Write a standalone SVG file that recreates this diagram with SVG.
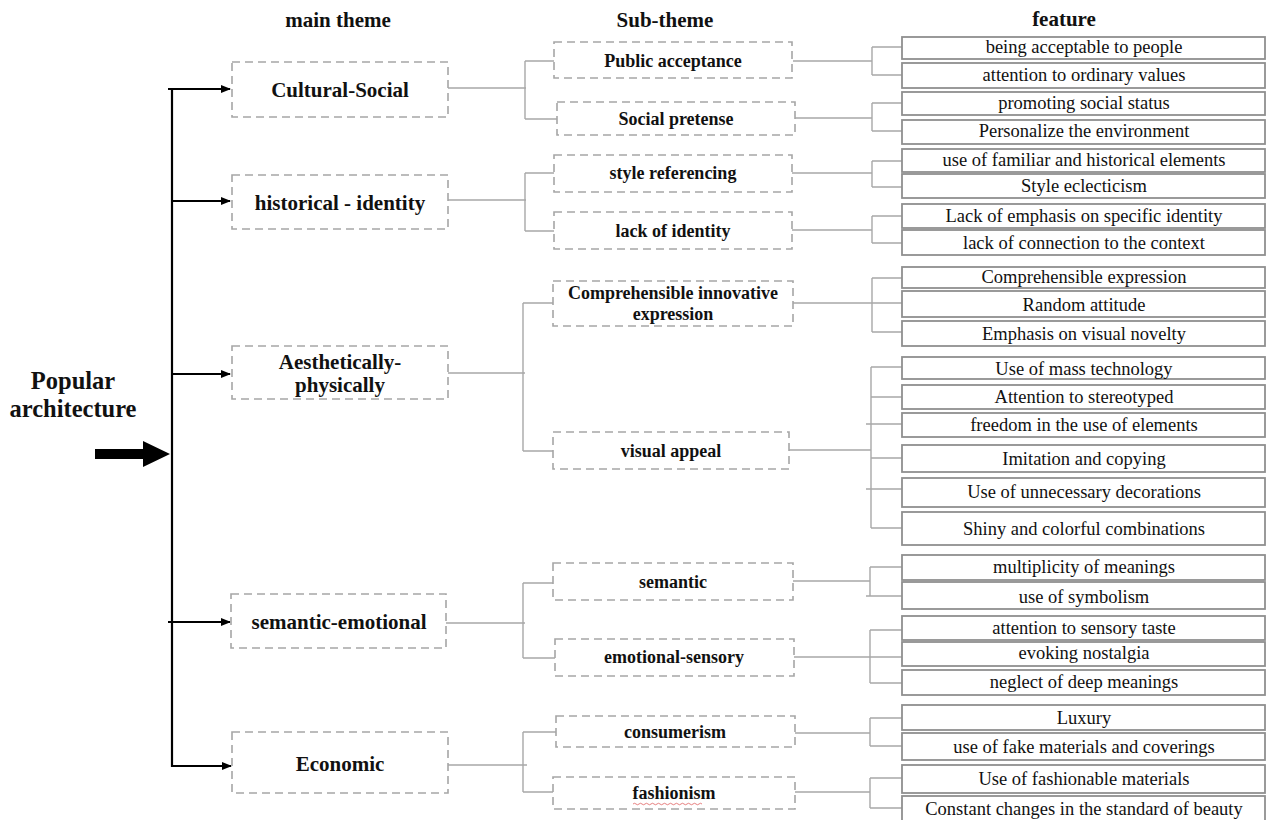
<svg xmlns="http://www.w3.org/2000/svg" width="1266" height="820" viewBox="0 0 1266 820">
<style>
.hd{font-family:"Liberation Serif","Times New Roman",serif;font-weight:bold;font-size:21px;fill:#111;text-anchor:middle}
.mt{font-family:"Liberation Serif","Times New Roman",serif;font-weight:bold;font-size:21px;fill:#111;text-anchor:middle}
.st{font-family:"Liberation Serif","Times New Roman",serif;font-weight:bold;font-size:18px;fill:#111;text-anchor:middle}
.ft{font-family:"Liberation Serif","Times New Roman",serif;font-size:18.5px;fill:#111;text-anchor:middle}
.root{font-family:"Liberation Serif","Times New Roman",serif;font-weight:bold;font-size:24.5px;fill:#111;text-anchor:middle}
.dash{fill:#fff;stroke:#a6a6a6;stroke-width:1.6;stroke-dasharray:8 5}
.fb{fill:#fff;stroke:#8f8f8f;stroke-width:1.8}
.gl{fill:none;stroke:#a8a8a8;stroke-width:1.4}
.bl{fill:none;stroke:#000;stroke-width:2.2}
</style>
<defs>
<marker id="ah" markerWidth="10" markerHeight="8" refX="9" refY="4" orient="auto" markerUnits="userSpaceOnUse">
<path d="M0,0 L10,4 L0,8 Z" fill="#000"/>
</marker>
</defs>
<rect width="1266" height="820" fill="#fff"/>

<g id="headers">
<text class="hd" x="338" y="27">main theme</text>
<text class="hd" x="665" y="27">Sub-theme</text>
<text class="hd" x="1064" y="26">feature</text>
</g>

<g id="root">
<text class="root" x="73" y="389">Popular</text>
<text class="root" x="73" y="417">architecture</text>
<polygon points="95,449 143,449 143,441 170,454 143,467 143,459 95,459" fill="#000"/>
</g>

<g id="connectors">
<!-- spine and main arrows -->
<path class="bl" d="M172,88 V767" stroke-width="2.6"/>
<path class="bl" d="M168,89 H230" marker-end="url(#ah)"/>
<path class="bl" d="M172,201 H230" marker-end="url(#ah)"/>
<path class="bl" d="M172,374 H230" marker-end="url(#ah)"/>
<path class="bl" d="M168,622 H230" marker-end="url(#ah)"/>
<path class="bl" d="M172,766 H231" marker-end="url(#ah)"/>
<!-- main to sub -->
<path class="gl" d="M448,88 H526 M525,61 V119 M525,61 H554 M525,119 H557"/>
<path class="gl" d="M448,200 H526 M525,173 V231 M525,173 H554 M525,231 H554"/>
<path class="gl" d="M448,373 H525 M523,303 V451 M523,303 H553 M523,451 H553"/>
<path class="gl" d="M446,623 H525 M523,583 V658 M523,583 H553 M523,658 H555"/>
<path class="gl" d="M448,765 H527 M523,732 V792 M523,732 H556 M523,792 H553"/>
<!-- sub to features -->
<path class="gl" d="M793,61 H872 M872,47 V75 M872,47 H902 M872,75 H902"/>
<path class="gl" d="M795,118 H872 M872,103 V131 M872,103 H902 M872,131 H902"/>
<path class="gl" d="M792,173 H872 M872,161 V187 M872,161 H902 M872,187 H902"/>
<path class="gl" d="M792,230 H872 M872,216 V243 M872,216 H902 M872,243 H902"/>
<path class="gl" d="M793,303 H902 M872,278 V332 M872,278 H902 M872,332 H902"/>
<path class="gl" d="M789,450 H871 M871,367 V528 M871,367 H902 M871,397 H902 M866,424 H902 M871,458 H902 M866,489 H902 M871,528 H902"/>
<path class="gl" d="M793,581 H870 M870,567 V596 M870,567 H902 M866,596 H902"/>
<path class="gl" d="M794,657 H902 M870,630 V683 M870,630 H902 M870,683 H902"/>
<path class="gl" d="M795,733 H870 M870,718 V746 M870,718 H902 M870,746 H902"/>
<path class="gl" d="M795,792 H870 M870,778 V808 M870,778 H902 M870,808 H902"/>
</g>

<g id="main-cultural-social"><rect class="dash" x="232" y="62" width="216" height="55"/><text class="mt" x="340" y="97">Cultural-Social</text></g>
<g id="main-historical-identity"><rect class="dash" x="232" y="175" width="216" height="54"/><text class="mt" x="340" y="210">historical - identity</text></g>
<g id="main-aesthetically-physically"><rect class="dash" x="232" y="346" width="216" height="53"/><text class="mt" x="340" y="369">Aesthetically-</text><text class="mt" x="340" y="392">physically</text></g>
<g id="main-semantic-emotional"><rect class="dash" x="231" y="594" width="215" height="54"/><text class="mt" x="339" y="629">semantic-emotional</text></g>
<g id="main-economic"><rect class="dash" x="232" y="732" width="216" height="61"/><text class="mt" x="340" y="771">Economic</text></g>

<g id="sub-public-acceptance"><rect class="dash" x="554" y="42" width="238" height="36"/><text class="st" x="673" y="67">Public acceptance</text></g>
<g id="sub-social-pretense"><rect class="dash" x="557" y="102" width="238" height="33"/><text class="st" x="676" y="125">Social pretense</text></g>
<g id="sub-style-referencing"><rect class="dash" x="554" y="155" width="238" height="37"/><text class="st" x="673" y="179">style referencing</text></g>
<g id="sub-lack-of-identity"><rect class="dash" x="554" y="212" width="238" height="37"/><text class="st" x="673" y="237">lack of identity</text></g>
<g id="sub-comprehensible"><rect class="dash" x="553" y="281" width="240" height="45"/><text class="st" x="673" y="299">Comprehensible innovative</text><text class="st" x="673" y="320">expression</text></g>
<g id="sub-visual-appeal"><rect class="dash" x="553" y="432" width="236" height="37"/><text class="st" x="671" y="457">visual appeal</text></g>
<g id="sub-semantic"><rect class="dash" x="553" y="563" width="240" height="37"/><text class="st" x="673" y="588">semantic</text></g>
<g id="sub-emotional-sensory"><rect class="dash" x="555" y="639" width="239" height="37"/><text class="st" x="674" y="663">emotional-sensory</text></g>
<g id="sub-consumerism"><rect class="dash" x="556" y="716" width="239" height="31"/><text class="st" x="675" y="738">consumerism</text></g>
<g id="sub-fashionism"><rect class="dash" x="553" y="777" width="242" height="32"/><text class="st" x="674" y="799">fashionism</text>
<path d="M633,804 q1.5,-1.5 3,0 t3,0 t3,0 t3,0 t3,0 t3,0 t3,0 t3,0 t3,0 t3,0 t3,0 t3,0 t3,0 t3,0 t3,0 t3,0 t3,0 t3,0 t3,0 t3,0 t3,0 t3,0 t3,0" fill="none" stroke="#e06060" stroke-width="0.8"/></g>

<g id="f1"><rect class="fb" x="902" y="37" width="363" height="22"/><text class="ft" x="1084" y="53">being acceptable to people</text></g>
<g id="f2"><rect class="fb" x="902" y="63" width="363" height="25"/><text class="ft" x="1084" y="81">attention to ordinary values</text></g>
<g id="f3"><rect class="fb" x="902" y="92" width="363" height="23"/><text class="ft" x="1084" y="109">promoting social status</text></g>
<g id="f4"><rect class="fb" x="902" y="120" width="363" height="24"/><text class="ft" x="1084" y="137">Personalize the environment</text></g>
<g id="f5"><rect class="fb" x="902" y="149" width="363" height="23"/><text class="ft" x="1084" y="166">use of familiar and historical elements</text></g>
<g id="f6"><rect class="fb" x="902" y="174" width="363" height="24"/><text class="ft" x="1084" y="192">Style eclecticism</text></g>
<g id="f7"><rect class="fb" x="902" y="204" width="363" height="24"/><text class="ft" x="1084" y="222">Lack of emphasis on specific identity</text></g>
<g id="f8"><rect class="fb" x="902" y="230" width="363" height="25"/><text class="ft" x="1084" y="249">lack of connection to the context</text></g>
<g id="f9"><rect class="fb" x="902" y="267" width="363" height="21"/><text class="ft" x="1084" y="283">Comprehensible expression</text></g>
<g id="f10"><rect class="fb" x="902" y="291" width="363" height="26"/><text class="ft" x="1084" y="311">Random attitude</text></g>
<g id="f11"><rect class="fb" x="902" y="321" width="363" height="25"/><text class="ft" x="1084" y="340">Emphasis on visual novelty</text></g>
<g id="f12"><rect class="fb" x="902" y="357" width="363" height="22"/><text class="ft" x="1084" y="375">Use of mass technology</text></g>
<g id="f13"><rect class="fb" x="902" y="385" width="363" height="24"/><text class="ft" x="1084" y="403">Attention to stereotyped</text></g>
<g id="f14"><rect class="fb" x="902" y="413" width="363" height="24"/><text class="ft" x="1084" y="431">freedom in the use of elements</text></g>
<g id="f15"><rect class="fb" x="902" y="445" width="363" height="27"/><text class="ft" x="1084" y="465">Imitation and copying</text></g>
<g id="f16"><rect class="fb" x="902" y="478" width="363" height="29"/><text class="ft" x="1084" y="498">Use of unnecessary decorations</text></g>
<g id="f17"><rect class="fb" x="902" y="512" width="363" height="33"/><text class="ft" x="1084" y="535">Shiny and colorful combinations</text></g>
<g id="f18"><rect class="fb" x="902" y="555" width="363" height="25"/><text class="ft" x="1084" y="573">multiplicity of meanings</text></g>
<g id="f19"><rect class="fb" x="902" y="582" width="363" height="27"/><text class="ft" x="1084" y="603">use of symbolism</text></g>
<g id="f20"><rect class="fb" x="902" y="616" width="363" height="24"/><text class="ft" x="1084" y="634">attention to sensory taste</text></g>
<g id="f21"><rect class="fb" x="902" y="642" width="363" height="24"/><text class="ft" x="1084" y="659">evoking nostalgia</text></g>
<g id="f22"><rect class="fb" x="902" y="670" width="363" height="25"/><text class="ft" x="1084" y="688">neglect of deep meanings</text></g>
<g id="f23"><rect class="fb" x="902" y="705" width="363" height="25"/><text class="ft" x="1084" y="724">Luxury</text></g>
<g id="f24"><rect class="fb" x="902" y="733" width="363" height="27"/><text class="ft" x="1084" y="753">use of fake materials and coverings</text></g>
<g id="f25"><rect class="fb" x="902" y="765" width="363" height="28"/><text class="ft" x="1084" y="785">Use of fashionable materials</text></g>
<g id="f26"><rect class="fb" x="902" y="796" width="363" height="34"/><text class="ft" x="1084" y="815">Constant changes in the standard of beauty</text></g>
</svg>
